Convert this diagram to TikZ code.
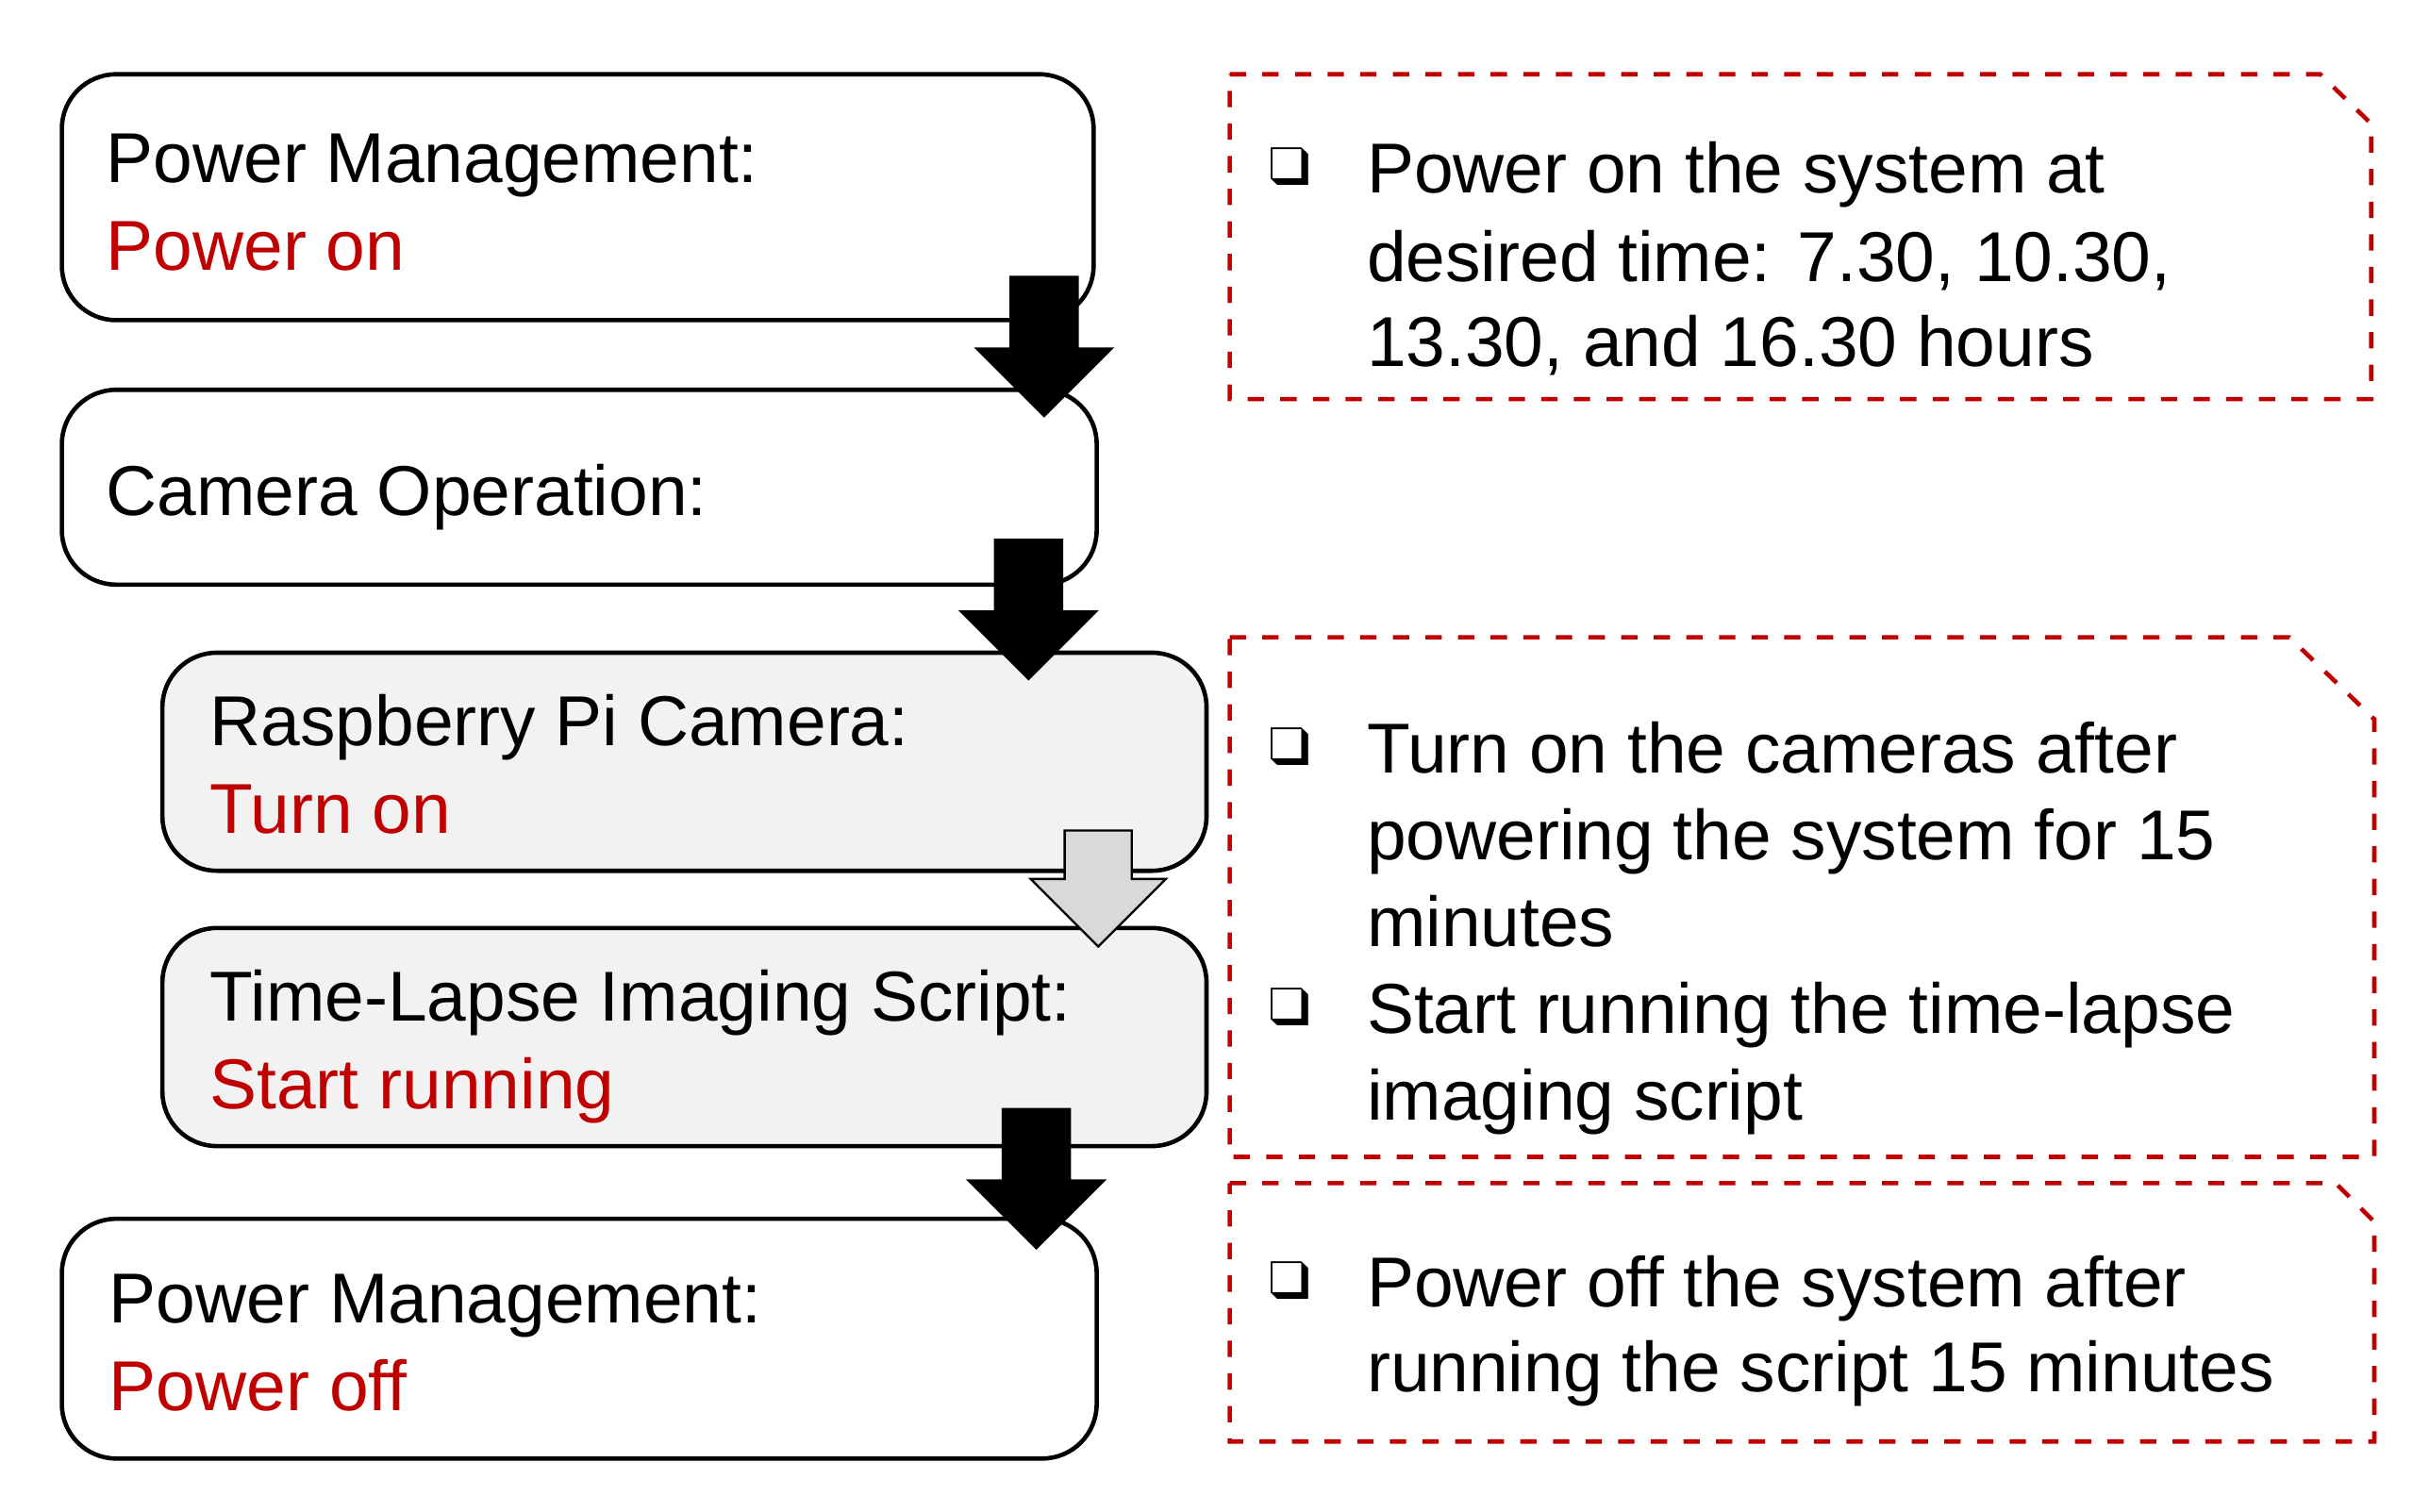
\documentclass[tikz,border=0pt]{standalone}
\usepackage{fontspec}
\setmainfont{Liberation Sans}
\usepackage{pifont}
\usetikzlibrary{shapes.arrows}
\definecolor{darkred}{HTML}{C00000}
\definecolor{boxgray}{HTML}{F2F2F2}
\begin{document}
\begin{tikzpicture}
	[x=0.1mm, y=-0.1mm,
	stage/.style = {draw, thick, rounded corners=10pt},
	txt/.style = {inner sep=0, anchor=base west, font=\fontsize{13}{16}\selectfont},
	red/.style = {txt, text=darkred},
	bul/.style = {inner sep=0, anchor=base west, font=\fontsize{10}{12}\selectfont},
	note/.style = {draw=darkred, thick, dashed},
	flow/.style = {single arrow, draw, fill=black, rotate=270, text height=4.2mm, text depth=0pt,
		single arrow head extend=2.2mm, minimum height=9mm, inner sep=0, anchor=tip}]
\useasboundingbox (0,0) rectangle (1560,977);
% stages
\draw[stage] (40,48) rectangle (707,207);
\draw[stage] (40,252) rectangle (709,378);
\draw[stage, fill=boxgray] (105,422) rectangle (780,563);
\draw[stage, fill=boxgray] (105,600) rectangle (780,741);
\draw[stage] (40,788) rectangle (709,943);
\node[txt] (pm1) at (68,118) {Power Management:};
\node[red] (on1) at (68,175) {Power on};
\node[txt] (cam) at (68,333) {Camera Operation:};
\node[txt] (rpi) at (135,482) {Raspberry Pi Camera:};
\node[red] (on2) at (135,539) {Turn on};
\node[txt] (tl) at (135,660) {Time-Lapse Imaging Script:};
\node[red] (run) at (135,717) {Start running};
\node[txt] (pm2) at (70,855) {Power Management:};
\node[red] (off) at (70,912) {Power off};
% arrows
\node[flow] (a1) at (675,270) {};
\node[flow] (a2) at (665,440) {};
\node[flow, fill=black!15, minimum height=7.5mm] (a3) at (710,613) {};
\node[flow] (a4) at (670,808) {};
% notes
\draw[note] (795,48) -- (1500,48) -- (1533,80) -- (1533,258) -- (795,258) -- cycle;
\draw[note] (795,412) -- (1480,412) -- (1535,465) -- (1535,748) -- (795,748) -- cycle;
\draw[note] (795,765) -- (1510,765) -- (1535,790) -- (1535,932) -- (795,932) -- cycle;
\node[bul] (b1) at (820,120) {\ding{113}};
\node[txt] (n1a) at (883,125) {Power on the system at};
\node[txt] (n1b) at (883,182) {desired time: 7.30, 10.30,};
\node[txt] (n1c) at (883,237) {13.30, and 16.30 hours};
\node[bul] (b2) at (820,495) {\ding{113}};
\node[txt] (n2a) at (883,500) {Turn on the cameras after};
\node[txt] (n2b) at (883,556) {powering the system for 15};
\node[txt] (n2c) at (883,612) {minutes};
\node[bul] (b3) at (820,663) {\ding{113}};
\node[txt] (n3a) at (883,668) {Start running the time-lapse};
\node[txt] (n3b) at (883,724) {imaging script};
\node[bul] (b4) at (820,840) {\ding{113}};
\node[txt] (n4a) at (883,845) {Power off the system after};
\node[txt] (n4b) at (883,900) {running the script 15 minutes};
\end{tikzpicture}
\end{document}
